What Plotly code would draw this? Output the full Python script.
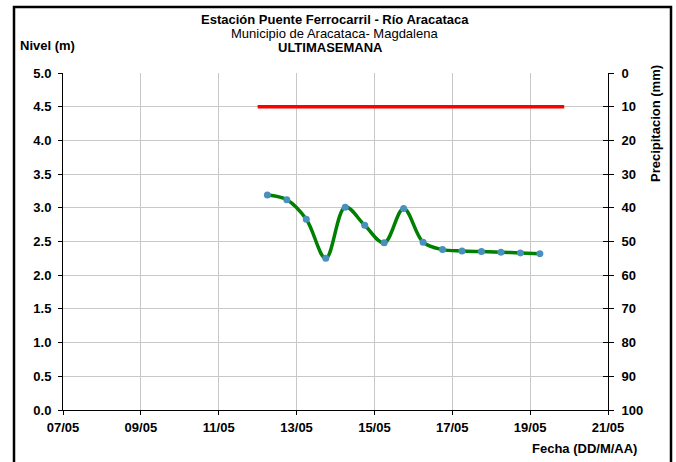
import plotly.graph_objects as go

# ---- data ----
nivel_times = [
    "2023-05-12 06:00", "2023-05-12 18:00", "2023-05-13 06:00", "2023-05-13 18:00",
    "2023-05-14 06:00", "2023-05-14 18:00", "2023-05-15 06:00", "2023-05-15 18:00",
    "2023-05-16 06:00", "2023-05-16 18:00", "2023-05-17 06:00", "2023-05-17 18:00",
    "2023-05-18 06:00", "2023-05-18 18:00", "2023-05-19 06:00",
]
nivel_values = [3.19, 3.12, 2.83, 2.25, 3.01, 2.74, 2.48, 2.99, 2.49, 2.38, 2.36, 2.35, 2.34, 2.33, 2.32]

alerta_times = ["2023-05-12 00:00", "2023-05-19 21:00"]
alerta_values = [4.5, 4.5]

x_range = ["2023-05-07", "2023-05-21"]
y_left_range = [0, 5]
y_right_range = [100, 0]

title_main = "Estación Puente Ferrocarril - Río Aracataca"
title_sub = "Municipio de Aracataca- Magdalena"
title_week = "ULTIMASEMANA"
y_left_title = "Nivel (m)"
y_right_title = "Precipitacion (mm)"
x_title = "Fecha (DD/M/AA)"

# ---- layout geometry ----
W, H = 676, 462
L, R, T, B = 63, 68, 73, 52
PW, PH = W - L - R, H - T - B


def px(x):
    return (x - L) / PW


def py(y):
    return (H - B - y) / PH


FONT = "Liberation Sans, Arial, sans-serif"

fig = go.Figure()
fig.add_trace(go.Scatter(
    x=alerta_times, y=alerta_values, mode="lines",
    line=dict(color="#ff0000", width=3.5), showlegend=False, hoverinfo="skip"))
fig.add_trace(go.Scatter(
    x=nivel_times, y=nivel_values, mode="lines+markers",
    line=dict(color="#008000", width=3.5, shape="spline", smoothing=1.0),
    marker=dict(color="#4a90bf", size=7), showlegend=False))
# dummy traces to activate right axes
fig.add_trace(go.Scatter(x=[x_range[0]], y=[None], yaxis="y2", showlegend=False, hoverinfo="skip"))
fig.add_trace(go.Scatter(x=[x_range[0]], y=[None], yaxis="y3", showlegend=False, hoverinfo="skip"))

tickfont = dict(family=FONT, size=13, color="black", weight="bold")
TS = 13

fig.update_layout(
    width=W, height=H,
    margin=dict(l=L, r=R, t=T, b=B),
    paper_bgcolor="white", plot_bgcolor="white",
    xaxis=dict(
        type="date", range=x_range, tick0="2023-05-07", dtick=2 * 86400000,
        tickformat="%d/%m", showgrid=True, gridcolor="#c8c8c8", gridwidth=1,
        showline=True, linecolor="black", linewidth=1,
        ticks="outside", ticklen=4, tickcolor="black", tickfont=tickfont,
        ticklabelstandoff=1, zeroline=False,
    ),
    yaxis=dict(
        range=y_left_range, dtick=0.5, tickformat=".1f",
        showgrid=True, gridcolor="#c8c8c8", gridwidth=1,
        showline=True, linecolor="black", linewidth=1,
        ticks="outside", ticklen=4, tickcolor="black", tickfont=tickfont,
        ticklabelstandoff=4, zeroline=False,
    ),
    yaxis2=dict(
        range=y_right_range, dtick=10, overlaying="y", side="right",
        showgrid=False, showline=True, linecolor="black", linewidth=1,
        ticks="outside", ticklen=5, tickcolor="black", tickfont=tickfont,
        ticklabelstandoff=5, zeroline=False,
    ),
    yaxis3=dict(
        range=y_right_range, dtick=10, overlaying="y", side="right",
        showgrid=False, showline=False, showticklabels=False,
        ticks="inside", ticklen=5, tickcolor="black", zeroline=False,
    ),
    shapes=[dict(
        type="rect", xref="paper", yref="paper",
        x0=px(14), x1=px(671), y0=py(470), y1=py(7),
        line=dict(color="black", width=2.5), fillcolor="rgba(0,0,0,0)", layer="above")],
    annotations=[
        dict(text="<b>" + title_main + "</b>", xref="paper", yref="paper",
             x=px(335), y=py(19), showarrow=False, xanchor="center", yanchor="middle",
             font=dict(family=FONT, size=TS, color="black")),
        dict(text=title_sub, xref="paper", yref="paper",
             x=px(334), y=py(34), showarrow=False, xanchor="center", yanchor="middle",
             font=dict(family=FONT, size=TS, color="black")),
        dict(text="<b>" + title_week + "</b>", xref="paper", yref="paper",
             x=px(330), y=py(47.5), showarrow=False, xanchor="center", yanchor="middle",
             font=dict(family=FONT, size=TS, color="black")),
        dict(text="<b>" + y_left_title + "</b>", xref="paper", yref="paper",
             x=px(18), y=py(45), showarrow=False, xanchor="left", yanchor="middle",
             font=dict(family=FONT, size=13, color="black")),
        dict(text="<b>" + y_right_title + "</b>", xref="paper", yref="paper",
             x=px(655), y=py(124), showarrow=False, xanchor="center", yanchor="middle",
             textangle=-90, font=dict(family=FONT, size=13, color="black")),
        dict(text="<b>" + x_title + "</b>", xref="paper", yref="paper",
             x=px(639), y=py(449), showarrow=False, xanchor="right", yanchor="middle",
             font=dict(family=FONT, size=13, color="black")),
    ],
)

fig.write_html("out.html", config={"displayModeBar": False},
               post_script="document.body.style.margin='0px';")
